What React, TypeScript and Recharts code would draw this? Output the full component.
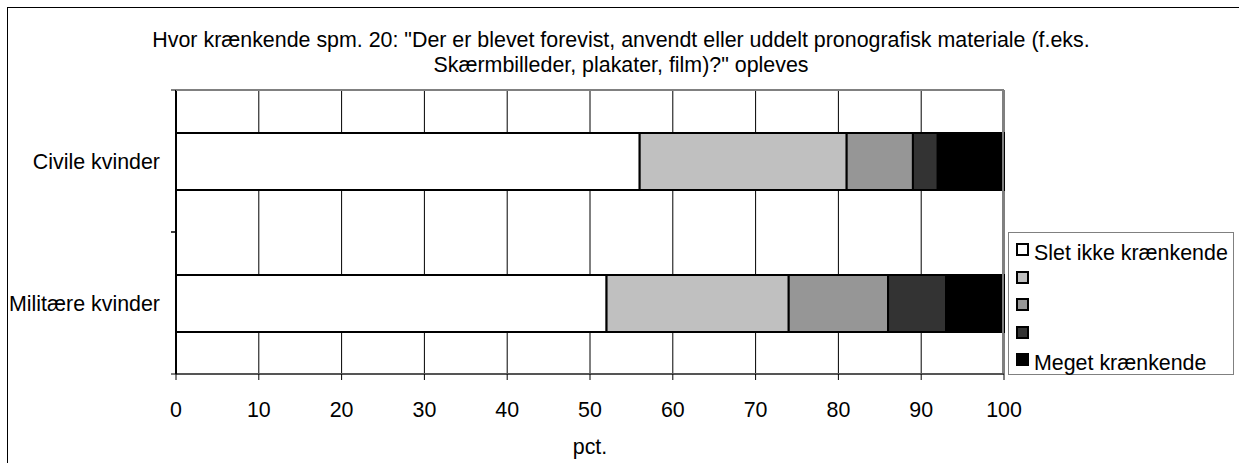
import React from "react";
import { BarChart, Bar, XAxis, YAxis, CartesianGrid } from "recharts";

const categories = ["Civile kvinder", "Militære kvinder"];
const slet = [56, 52];
const lidt = [25, 22];
const noget = [8, 12];
const ret = [3, 7];
const meget = [8, 7];
const xTicks = [0, 10, 20, 30, 40, 50, 60, 70, 80, 90, 100];

const series = [
  { key: "slet", name: "Slet ikke krænkende", fill: "#ffffff" },
  { key: "lidt", name: "", fill: "#c0c0c0" },
  { key: "noget", name: "", fill: "#969696" },
  { key: "ret", name: "", fill: "#333333" },
  { key: "meget", name: "Meget krænkende", fill: "#000000" },
];

const data = categories.map((c, i) => ({
  name: c,
  slet: slet[i],
  lidt: lidt[i],
  noget: noget[i],
  ret: ret[i],
  meget: meget[i],
}));

const font = "'Liberation Sans', Arial, sans-serif";
const fs = 21.4;

const chartW = 1232;
const chartH = 460;
const margin = { top: 82, right: 236, left: 0, bottom: 4 };
const yAxisW = 168;
const xAxisH = 90;

// category label and small tick marks at the band edges
function CatTick(props: any) {
  const { x, y, payload } = props;
  const half = payload.offset || 0;
  const axisX = x + 16;
  return (
    <g>
      <line x1={axisX - 5} x2={axisX} y1={y - half} y2={y - half} stroke="#000" />
      <line x1={axisX - 5} x2={axisX} y1={y + half} y2={y + half} stroke="#000" />
      <text x={x} y={y} dy="0.355em" textAnchor="end" fill="#000" fontSize={fs} fontFamily={font}>
        {payload.value}
      </text>
    </g>
  );
}

function LegendBox() {
  return (
    <div
      style={{
        position: "absolute",
        left: 1000,
        top: 224,
        border: "1px solid #808080",
        background: "#fff",
        width: 226,
        height: 143,
        boxSizing: "border-box",
        padding: "7px 0 0 7px",
        fontFamily: font,
        fontSize: fs,
        color: "#000",
      }}
    >
      {series.map((s) => (
        <div key={s.key} style={{ height: 27.5, display: "flex", alignItems: "center" }}>
          <span
            style={{
              display: "inline-block",
              width: 9,
              height: 9,
              border: "2px solid #000",
              background: s.fill,
              marginRight: 5,
              position: "relative",
              top: -4,
            }}
          />
          <span>{s.name}</span>
        </div>
      ))}
    </div>
  );
}

export default function App() {
  return (
    <div
      style={{
        position: "fixed",
        left: 7,
        top: 7,
        width: 1240,
        height: 470,
        border: "1px solid #000",
        background: "#fff",
        fontFamily: font,
      }}
    >
      <div
        style={{
          position: "absolute",
          left: 0,
          width: 1226,
          top: 20,
          textAlign: "center",
          fontSize: fs,
          lineHeight: "25px",
          color: "#000",
        }}
      >
        Hvor krænkende spm. 20: "Der er blevet forevist, anvendt eller uddelt pronografisk materiale (f.eks.
        <br />
        Skærmbilleder, plakater, film)?" opleves
      </div>
      <BarChart width={chartW} height={chartH} data={data} layout="vertical" margin={margin}>
        <CartesianGrid horizontal={false} vertical stroke="#000" strokeWidth={1} />
        <XAxis
          type="number"
          domain={[0, 100]}
          ticks={xTicks}
          interval={0}
          height={xAxisH}
          tickSize={6}
          tickMargin={22}
          axisLine={{ stroke: "#555", strokeWidth: 2 }}
          tickLine={{ stroke: "#000" }}
          tick={{ fill: "#000", fontSize: fs, fontFamily: font }}
          label={{ value: "pct.", position: "insideBottom", offset: 10, fill: "#000", fontSize: fs, fontFamily: font }}
        />
        <YAxis
          type="category"
          dataKey="name"
          width={yAxisW}
          tickSize={0}
          tickMargin={16}
          tickLine={false}
          axisLine={{ stroke: "#000", strokeWidth: 2 }}
          tick={<CatTick />}
        />
        {series.map((s) => (
          <Bar
            key={s.key}
            dataKey={s.key}
            name={s.name}
            stackId="a"
            fill={s.fill}
            stroke="#000"
            strokeWidth={2}
            barSize={57}
            isAnimationActive={false}
          />
        ))}
      </BarChart>
      {/* grey frame on top and right of the plot area */}
      <div
        style={{
          position: "absolute",
          left: margin.left + yAxisW,
          top: margin.top - 1,
          width: chartW - margin.left - margin.right - yAxisW,
          height: chartH - margin.top - margin.bottom - xAxisH,
          borderTop: "2px solid #808080",
          borderRight: "2px solid #808080",
          boxSizing: "border-box",
          pointerEvents: "none",
        }}
      />
      <LegendBox />
    </div>
  );
}
